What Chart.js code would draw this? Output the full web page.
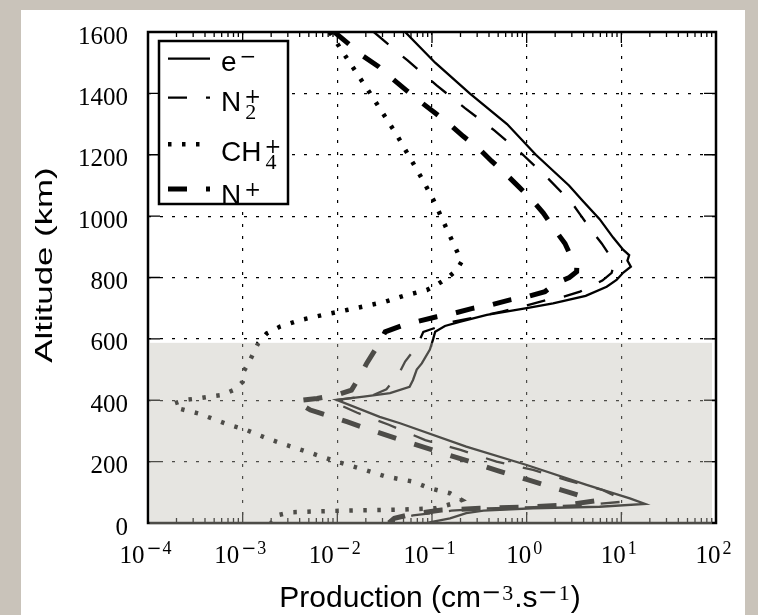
<!DOCTYPE html>
<html>
<head>
<meta charset="utf-8">
<script src="https://cdn.jsdelivr.net/npm/chart.js@4.4.1/dist/chart.umd.min.js"></script>
<style>
  html, body { margin: 0; padding: 0; background: #c9c3ba; }
  body { width: 758px; height: 615px; position: relative; overflow: hidden; }
  #panel { position: absolute; left: 21px; top: 10px; width: 724px; height: 605px; background: #fff; }
  canvas { display: block; }
</style>
</head>
<body>
<div id="panel"><canvas id="prod" width="724" height="605"></canvas></div>
<script>
"use strict";

// production profiles: altitude (km) and production rate (cm^-3.s^-1)
const altElec = [1600, 1500, 1400, 1300, 1200, 1100, 1050, 990, 930, 890, 873, 855, 835, 816, 792, 770, 740, 716, 700, 678, 656, 642, 623, 600, 565, 520, 500, 466, 444, 423, 412, 401, 346, 325, 249, 189, 124, 80, 62, 53, 48, 40, 32, 15, 4, 0];
const prodElec = [0.052, 0.108, 0.25, 0.62, 1.25, 2.8, 3.9, 5.9, 8.2, 10.5, 12.1, 11.6, 12.6, 10.5, 8.9, 7.0, 4.2, 1.9, 1.0, 0.38, 0.2, 0.137, 0.108, 0.103, 0.095, 0.078, 0.069, 0.063, 0.058, 0.036, 0.019, 0.0098, 0.028, 0.046, 0.23, 1.0, 4.3, 12.3, 17.8, 5.9, 1.17, 0.35, 0.23, 0.155, 0.1, 0.088];

const altN2 = [1600, 1508, 1426, 1352, 1280, 1204, 1122, 1041, 1009, 955, 911, 870, 840, 815, 790, 775, 754, 737, 727, 705, 690, 678, 667, 656, 645, 623, 575, 526, 482, 436, 417, 398, 360, 320, 270, 238, 200, 173, 138, 107, 88, 70, 58, 52, 47, 40, 25, 10, 0];
const prodN2 = [0.0243, 0.0548, 0.112, 0.223, 0.452, 0.885, 1.69, 3.04, 3.6, 4.8, 6.2, 7.6, 8.3, 7.9, 6.3, 5.06, 3.66, 2.44, 1.63, 0.89, 0.56, 0.378, 0.252, 0.168, 0.132, 0.081, 0.069, 0.052, 0.044, 0.033, 0.024, 0.0085, 0.016, 0.035, 0.085, 0.2, 0.48, 1.17, 2.75, 6.4, 8.6, 11, 4, 1.2, 0.35, 0.16, 0.063, 0.04, 0.035];

const altCH4 = [1600, 1499, 1401, 1265, 1124, 1054, 982, 911, 852, 824, 797, 776, 759, 740, 721, 710, 694, 678, 661, 640, 618, 586, 520, 493, 460, 433, 417, 412, 406, 401, 390, 375, 357, 341, 319, 303, 276, 254, 227, 200, 178, 151, 135, 113, 97, 75, 62, 48, 44, 41, 38, 35, 25, 12, 0];
const prodCH4 = [0.0083, 0.0136, 0.0221, 0.0424, 0.0778, 0.103, 0.132, 0.168, 0.206, 0.182, 0.143, 0.112, 0.088, 0.05, 0.032, 0.022, 0.0126, 0.0071, 0.004, 0.00248, 0.0018, 0.00146, 0.00115, 0.00102, 0.001, 0.0008, 0.0006, 0.00045, 0.00034, 0.000246, 0.00019, 0.0002, 0.00034, 0.00047, 0.00073, 0.0011, 0.0018, 0.0029, 0.0054, 0.0098, 0.0173, 0.033, 0.063, 0.095, 0.155, 0.206, 0.16, 0.11, 0.05, 0.015, 0.006, 0.0032, 0.0023, 0.0021, 0.002];

const altNp = [1600, 1521, 1488, 1450, 1409, 1374, 1336, 1298, 1260, 1222, 1179, 1140, 1097, 1054, 1010, 955, 911, 863, 840, 819, 800, 782, 754, 737, 727, 710, 700, 683, 672, 656, 645, 623, 580, 520, 488, 433, 417, 406, 398, 385, 368, 358, 330, 298, 265, 232, 200, 170, 142, 118, 100, 85, 72, 58, 52, 48, 42, 30, 15, 0];
const prodNp = [0.0093, 0.0188, 0.0271, 0.0375, 0.054, 0.0746, 0.108, 0.155, 0.214, 0.308, 0.427, 0.59, 0.817, 1.13, 1.5, 1.99, 2.54, 2.99, 3.39, 3.37, 2.82, 2.07, 1.56, 1.0, 0.667, 0.41, 0.274, 0.168, 0.112, 0.069, 0.05, 0.032, 0.027, 0.0204, 0.0181, 0.0141, 0.0098, 0.0061, 0.0037, 0.0042, 0.0052, 0.0066, 0.0126, 0.0251, 0.0537, 0.117, 0.251, 0.501, 1.0, 1.78, 2.82, 3.98, 5.25, 2.5, 1.0, 0.32, 0.126, 0.063, 0.04, 0.035];

// legend labels: base text, superscript, subscript
const speciesBase = ['e', 'N', 'CH', 'N'];
const speciesSup = ['\u2212', '+', '+', '+'];
const speciesSub = ['', '2', '4', ''];

// axes
const decades = [1e-4, 1e-3, 1e-2, 1e-1, 1, 10, 100];
const decadeExp = [-4, -3, -2, -1, 0, 1, 2];
const altTicks = [0, 200, 400, 600, 800, 1000, 1200, 1400, 1600];
const shadeTop = 587; // km, upper edge of the grey band

function pairs(alt, prod) {
  return alt.map((a, i) => ({ x: prod[i], y: a }));
}

function minorTicks() {
  const out = [];
  for (let k = 0; k < decades.length - 1; k++) {
    for (let m = 2; m <= 9; m++) out.push(m * decades[k]);
  }
  return out;
}

function innerGrid(edges) {
  return c => (c.tick && !edges.includes(c.tick.value)) ? '#000' : 'rgba(0,0,0,0)';
}

// frame box and inward tick marks on all four sides
const framePlugin = {
  id: 'frame',
  beforeDatasetsDraw(chart) {
    const { ctx, chartArea: a, scales: { x, y } } = chart;
    ctx.save();
    ctx.strokeStyle = '#000';
    ctx.lineWidth = 1.3;
    ctx.beginPath();
    const marks = decades.map(v => [v, 11]).concat(minorTicks().map(v => [v, 5]));
    for (const [v, len] of marks) {
      const px = x.getPixelForValue(v);
      ctx.moveTo(px, a.bottom); ctx.lineTo(px, a.bottom - len);
      ctx.moveTo(px, a.top); ctx.lineTo(px, a.top + len);
    }
    for (const v of altTicks) {
      const py = y.getPixelForValue(v);
      ctx.moveTo(a.left, py); ctx.lineTo(a.left + 12, py);
      ctx.moveTo(a.right, py); ctx.lineTo(a.right - 12, py);
    }
    ctx.stroke();
    ctx.lineWidth = 2.5;
    ctx.strokeRect(a.left, a.top, a.right - a.left, a.bottom - a.top);
    ctx.restore();
  }
};

// translucent grey band over the lower atmosphere, then the legend box
const overlayPlugin = {
  id: 'overlay',
  afterDatasetsDraw(chart) {
    const { ctx, chartArea: a, scales: { y } } = chart;
    const top = y.getPixelForValue(shadeTop);
    ctx.save();
    ctx.fillStyle = 'rgba(193,190,181,0.4)';
    ctx.fillRect(a.left + 1.5, top, a.right - 4 - (a.left + 1.5), a.bottom + 1.5 - top);

    const box = { left: 138, top: 31, right: 267, bottom: 194 };
    ctx.fillStyle = '#fff';
    ctx.fillRect(box.left, box.top, box.right - box.left, box.bottom - box.top);
    ctx.lineWidth = 2.5;
    ctx.strokeStyle = '#000';
    ctx.strokeRect(box.left, box.top, box.right - box.left, box.bottom - box.top);

    const lineY = [48.7, 87.7, 134.3, 179];
    const textY = [61, 101, 151, 194];
    chart.data.datasets.forEach((ds, i) => {
      ctx.strokeStyle = ds.borderColor;
      ctx.lineWidth = ds.borderWidth;
      ctx.setLineDash(ds.borderDash || []);
      ctx.beginPath();
      ctx.moveTo(147, lineY[i]);
      ctx.lineTo(189, lineY[i]);
      ctx.stroke();
      ctx.setLineDash([]);

      ctx.fillStyle = '#000';
      ctx.textAlign = 'left';
      ctx.textBaseline = 'alphabetic';
      ctx.font = '28px "Liberation Sans"';
      ctx.fillText(speciesBase[i], 200, textY[i]);
      const sx = 200 + ctx.measureText(speciesBase[i]).width + 3;
      ctx.font = '20px "DejaVu Serif"';
      ctx.fillText(speciesSup[i], sx, textY[i] - 8.5);
      if (speciesSub[i]) {
        ctx.font = '22px "Liberation Serif"';
        ctx.fillText(speciesSub[i], sx + 1, textY[i] + 8);
      }
    });
    ctx.restore();
  }
};

// tick labels and axis titles
const labelPlugin = {
  id: 'labels',
  afterDraw(chart) {
    const { ctx, chartArea: a, scales: { x, y } } = chart;
    ctx.save();
    ctx.fillStyle = '#000';
    ctx.textBaseline = 'alphabetic';

    ctx.textAlign = 'right';
    ctx.font = '25px "Liberation Serif"';
    for (const v of altTicks) {
      ctx.fillText(String(v), a.left - 20, y.getPixelForValue(v) + 11.5);
    }

    ctx.textAlign = 'left';
    decades.forEach((v, k) => {
      const e = decadeExp[k];
      const digits = String(Math.abs(e));
      ctx.font = '25px "Liberation Serif"';
      const wBase = ctx.measureText('10').width;
      ctx.font = '18px "DejaVu Serif"';
      const wMinus = e < 0 ? ctx.measureText('\u2212').width + 1 : 0;
      ctx.font = '18px "Liberation Serif"';
      const wDig = ctx.measureText(digits).width;
      const total = wBase + 2 + wMinus + wDig;
      let px = x.getPixelForValue(v) - 2.5 - total / 2;
      const base = a.bottom + 40;
      ctx.font = '25px "Liberation Serif"';
      ctx.fillText('10', px, base);
      px += wBase + 2;
      if (e < 0) {
        ctx.font = '18px "DejaVu Serif"';
        ctx.fillText('\u2212', px, base - 9);
        px += wMinus;
      }
      ctx.font = '18px "Liberation Serif"';
      ctx.fillText(digits, px, base - 9);
    });

    // x title with raised exponents
    const parts = [
      ['Production (cm', '30px "Liberation Sans"', 0],
      ['\u2212', '24px "DejaVu Serif"', -7],
      ['3', '22px "Liberation Serif"', -7],
      ['.s', '30px "Liberation Sans"', 0],
      ['\u2212', '24px "DejaVu Serif"', -7],
      ['1', '22px "Liberation Serif"', -7],
      [')', '30px "Liberation Sans"', 0]
    ];
    let tw = 0;
    for (const p of parts) { ctx.font = p[1]; tw += ctx.measureText(p[0]).width + (p[2] ? 1 : 0); }
    let tx = (a.left + a.right) / 2 - 2 - tw / 2;
    for (const p of parts) {
      ctx.font = p[1];
      ctx.fillText(p[0], tx, 597 + p[2]);
      tx += ctx.measureText(p[0]).width + (p[2] ? 1 : 0);
    }

    // y title, drawn tall and narrow
    ctx.translate(31, 255);
    ctx.rotate(-Math.PI / 2);
    ctx.scale(1.45, 1);
    ctx.textAlign = 'center';
    ctx.font = '24px "Liberation Sans"';
    ctx.fillText('Altitude (km)', 0, 0);
    ctx.restore();
  }
};

const chart = new Chart(document.getElementById('prod'), {
  type: 'scatter',
  data: {
    datasets: [
      { label: 'e-', data: pairs(altElec, prodElec), borderColor: '#000', borderWidth: 2.3, borderDash: [] },
      { label: 'N2+', data: pairs(altN2, prodN2), borderColor: '#000', borderWidth: 2.3, borderDash: [19, 19] },
      { label: 'CH4+', data: pairs(altCH4, prodCH4), borderColor: '#000', borderWidth: 4.5, borderDash: [3.5, 10.5] },
      { label: 'N+', data: pairs(altNp, prodNp), borderColor: '#000', borderWidth: 5, borderDash: [19, 19] }
    ].map(d => Object.assign(d, { showLine: true, pointRadius: 0, fill: false, tension: 0 }))
  },
  options: {
    responsive: false,
    animation: false,
    layout: { padding: { left: 0, top: 22, right: 29, bottom: 0 } },
    plugins: { legend: { display: false }, tooltip: { enabled: false } },
    scales: {
      x: {
        type: 'logarithmic',
        min: 1e-4,
        max: 100,
        afterBuildTicks: s => { s.ticks = decades.map(v => ({ value: v })); },
        afterFit: s => { s.height = 92; },
        ticks: { display: false },
        grid: { color: innerGrid([1e-4, 100]), lineWidth: 1.2, drawTicks: false },
        border: { display: false, dash: [3, 9] }
      },
      y: {
        type: 'linear',
        min: 0,
        max: 1600,
        afterBuildTicks: s => { s.ticks = altTicks.map(v => ({ value: v })); },
        afterFit: s => { s.width = 127; },
        ticks: { display: false },
        grid: { color: innerGrid([0, 1600]), lineWidth: 1.2, drawTicks: false },
        border: { display: false, dash: [3, 9] }
      }
    }
  },
  plugins: [framePlugin, overlayPlugin, labelPlugin]
});
</script>
</body>
</html>
